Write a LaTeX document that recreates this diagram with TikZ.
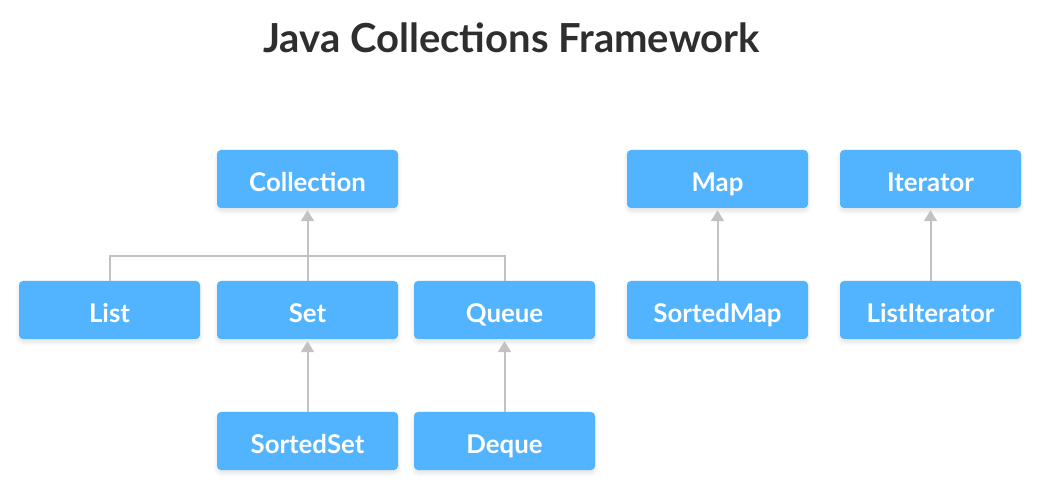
\documentclass[tikz,border=0pt]{standalone}
\usepackage{fontspec}
\setmainfont{Lato}
\usetikzlibrary{arrows.meta,shadows.blur}
\definecolor{boxblue}{HTML}{52B3FF}
\definecolor{linegray}{HTML}{C2C2C2}
\definecolor{titlegray}{HTML}{2E2E2E}
\tikzset{
  jbox/.style={fill=boxblue, rounded corners=4pt, minimum width=181pt, minimum height=58pt,
    inner sep=0pt, text=white, font=\bfseries\fontsize{25.8}{30}\selectfont,
    text height=25pt, text depth=0pt,
    blur shadow={shadow xshift=0pt, shadow yshift=-3pt, shadow blur radius=4pt, shadow opacity=12, shadow blur steps=6}},
  conn/.style={draw=linegray, line width=2pt},
  arr/.style={conn, -{Triangle[length=11pt,width=13pt]}, shorten >=2pt}
}
\begin{document}
\begin{tikzpicture}[x=1pt,y=-1pt]
\useasboundingbox (0,0) rectangle (1047,502);
\node[anchor=base, text=titlegray, font=\bfseries\fontsize{40}{48}\selectfont] (title) at (511.5,52.5) {Java Collections Framework};
\node[jbox] (coll) at (307.5,179) {Collection};
\node[jbox] (list) at (109.5,310) {List};
\node[jbox] (set) at (307.5,310) {Set};
\node[jbox] (queue) at (504.5,310) {Queue};
\node[jbox] (sset) at (307.5,441) {SortedSet};
\node[jbox] (deque) at (504.5,441) {Deque};
\node[jbox] (map) at (717.5,179) {Map};
\node[jbox] (smap) at (717.5,310) {SortedMap};
\node[jbox] (iter) at (930.5,179) {Iterator};
\node[jbox] (liter) at (930.5,310) {ListIterator};
\coordinate (barl) at (109.5,256);
\coordinate (barr) at (504.5,256);
\draw[conn] (list.north) -- (barl) -- (barr) -- (queue.north);
\draw[arr] (set.north) -- (coll.south);
\draw[arr] (sset.north) -- (set.south);
\draw[arr] (deque.north) -- (queue.south);
\draw[arr] (smap.north) -- (map.south);
\draw[arr] (liter.north) -- (iter.south);
\end{tikzpicture}
\end{document}
